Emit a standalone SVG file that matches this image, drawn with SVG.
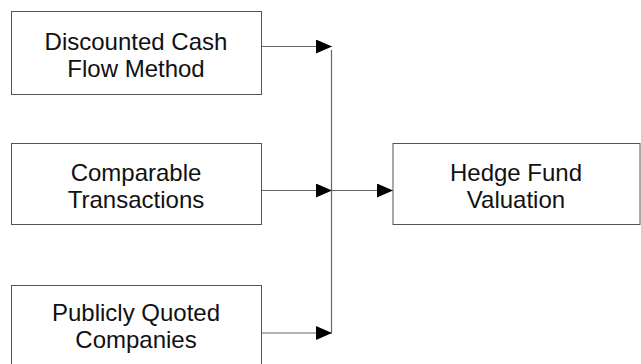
<svg xmlns="http://www.w3.org/2000/svg" width="641" height="364" viewBox="0 0 641 364">
  <defs>
    <marker id="arrow" markerWidth="16" markerHeight="14" refX="16" refY="7" orient="auto" markerUnits="userSpaceOnUse">
      <path d="M0,0 L16,7 L0,14 Z" fill="#000"/>
    </marker>
  </defs>
  <style>
    .box { fill: #fff; stroke: #555; stroke-width: 1; }
    .label { font-family: "Liberation Sans", Arial, sans-serif; font-size: 24px; fill: #111; text-anchor: middle; }
    .wire { fill: none; stroke: #666; stroke-width: 1.2; }
  </style>
  <rect width="641" height="364" fill="#fff"/>

  <g id="connectors">
    <line class="wire" x1="331.5" y1="50" x2="331.5" y2="333"/>
    <line class="wire" x1="261" y1="46.5" x2="332" y2="46.5" marker-end="url(#arrow)"/>
    <line class="wire" x1="261" y1="190.5" x2="332" y2="190.5" marker-end="url(#arrow)"/>
    <line class="wire" x1="261" y1="333" x2="332" y2="333" marker-end="url(#arrow)"/>
    <line class="wire" x1="331.5" y1="190.5" x2="393" y2="190.5" marker-end="url(#arrow)"/>
  </g>

  <g id="node-dcf">
    <rect class="box" x="11.5" y="11.5" width="250" height="83"/>
    <text class="label" x="136" y="50">Discounted Cash</text>
    <text class="label" x="136" y="77">Flow Method</text>
  </g>

  <g id="node-comparable">
    <rect class="box" x="11.5" y="143.5" width="250" height="81"/>
    <text class="label" x="136" y="181">Comparable</text>
    <text class="label" x="136" y="208">Transactions</text>
  </g>

  <g id="node-public">
    <rect class="box" x="11.5" y="285.5" width="250" height="83"/>
    <text class="label" x="136" y="321">Publicly Quoted</text>
    <text class="label" x="136" y="348">Companies</text>
  </g>

  <g id="node-hedge">
    <rect class="box" x="393" y="143.5" width="247" height="81"/>
    <text class="label" x="516" y="181">Hedge Fund</text>
    <text class="label" x="516" y="208">Valuation</text>
  </g>
</svg>
